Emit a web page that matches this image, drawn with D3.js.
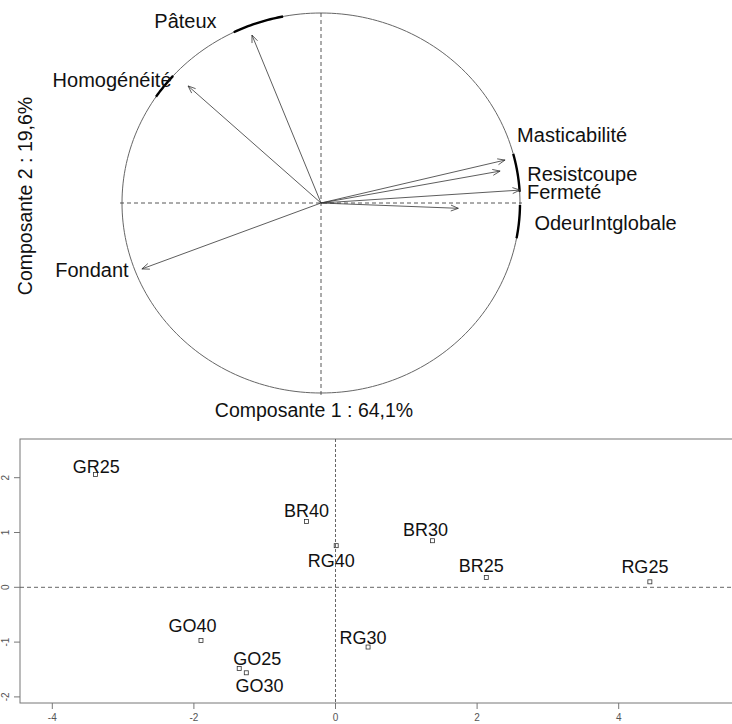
<!DOCTYPE html>
<html><head><meta charset="utf-8">
<script src="https://cdn.jsdelivr.net/npm/d3@7"></script>
<style>body{margin:0;background:#fff}svg{display:block}text{font-family:"Liberation Sans",Arial,Helvetica,sans-serif}</style>
</head><body><svg id="c" width="732" height="724"></svg>
<script>
// ---- Correlation circle data ----
const variables = ["Pâteux","Homogénéité","Fondant","Masticabilité","Resistcoupe","Fermeté","OdeurIntglobale"];
const dim1 = [-0.347,-0.668,-0.90,0.925,0.90,1.0,0.69];
const dim2 = [0.884,0.616,-0.347,0.226,0.168,0.068,-0.028];
const varLabelX = [-0.681,-1.050,-1.151,1.262,1.313,1.222,1.430];
const varLabelY = [0.960,0.647,-0.353,0.358,0.153,0.058,-0.107];
const highlightArcs = [[101,116],[138,146],[3.4,15],[-10.7,-0.6]];
const axisTitle1 = "Composante 1 : 64,1%";
const axisTitle2 = "Composante 2 : 19,6%";

// ---- Individuals data ----
const products = ["GR25","BR40","BR30","RG40","BR25","RG25","RG30","GO40","GO25","GO30"];
const prodX = [-3.39,-0.41,1.37,0.01,2.13,4.44,0.46,-1.90,-1.36,-1.26];
const prodY = [2.06,1.20,0.85,0.76,0.18,0.10,-1.09,-0.97,-1.48,-1.56];
const prodLabelX = [-3.38,-0.41,1.27,-0.06,2.06,4.37,0.39,-2.02,-1.105,-1.073];
const prodLabelY = [2.20,1.40,1.06,0.485,0.394,0.376,-0.912,-0.706,-1.296,-1.80];
const xTicks = [-4,-2,0,2,4];
const yTicks = [-2,-1,0,1,2];

const svg = d3.select("#c");

// ===== Top: correlation circle =====
const cx = d3.scaleLinear().domain([-1,1]).range([122,520]);
const cy = d3.scaleLinear().domain([-1,1]).range([393,13]);
const gTop = svg.append("g");

function arcPts(a0,a1,n){
  return d3.range(n+1).map(i=>{const a=(a0+(a1-a0)*i/n)*Math.PI/180;return [cx(Math.cos(a)),cy(Math.sin(a))];});
}
const line = d3.line();
gTop.append("path").attr("d",line(arcPts(0,360,240))+"Z")
  .attr("fill","none").attr("stroke","#666").attr("stroke-width",1);
highlightArcs.forEach(([a0,a1])=>{
  gTop.append("path").attr("d",line(arcPts(a0,a1,20)))
    .attr("fill","none").attr("stroke","#000").attr("stroke-width",2.4);
});
// dashed axes
gTop.append("line").attr("x1",cx(-1.01)).attr("x2",cx(1.01)).attr("y1",cy(0)).attr("y2",cy(0))
  .attr("stroke","#444").attr("stroke-dasharray","4,3").attr("stroke-width",0.9);
gTop.append("line").attr("x1",cx(0)).attr("x2",cx(0)).attr("y1",cy(1)).attr("y2",cy(-1.01))
  .attr("stroke","#444").attr("stroke-dasharray","4,3").attr("stroke-width",0.9);
// arrows
variables.forEach((v,i)=>{
  const x0=cx(0),y0=cy(0),x1=cx(dim1[i]),y1=cy(dim2[i]);
  const ang=Math.atan2(y1-y0,x1-x0), L=8, h=0.38;
  const p1=[x1-L*Math.cos(ang-h),y1-L*Math.sin(ang-h)];
  const p2=[x1-L*Math.cos(ang+h),y1-L*Math.sin(ang+h)];
  gTop.append("path").attr("d",`M${x0},${y0}L${x1},${y1}M${p1[0]},${p1[1]}L${x1},${y1}L${p2[0]},${p2[1]}`)
    .attr("fill","none").attr("stroke","#333").attr("stroke-width",0.8);
  gTop.append("text").attr("x",cx(varLabelX[i])).attr("y",cy(varLabelY[i])).attr("dy","0.35em")
    .attr("text-anchor","middle").attr("font-size",20).attr("fill","#111").text(v);
});
gTop.append("text").attr("x",314).attr("y",410).attr("dy","0.35em").attr("text-anchor","middle")
  .attr("font-size",19.5).attr("fill","#111").text(axisTitle1);
gTop.append("text").attr("transform","translate(25,196) rotate(-90)").attr("dy","0.35em").attr("text-anchor","middle")
  .attr("font-size",19.5).attr("fill","#111").text(axisTitle2);

// ===== Bottom: individuals =====
const x = d3.scaleLinear().domain([-4,4]).range([52.3,618.7]);
const y = d3.scaleLinear().domain([-2,2]).range([696.9,477.7]);
const fL=20,fT=439,fB=703,fR=740;
const gBot = svg.append("g");
gBot.append("rect").attr("x",fL).attr("y",fT).attr("width",fR-fL).attr("height",fB-fT)
  .attr("fill","none").attr("stroke","#777").attr("stroke-width",1);
gBot.append("line").attr("x1",fL).attr("x2",fR).attr("y1",y(0)).attr("y2",y(0))
  .attr("stroke","#555").attr("stroke-dasharray","4,3").attr("stroke-width",0.9);
gBot.append("line").attr("x1",x(0)).attr("x2",x(0)).attr("y1",fT).attr("y2",fB)
  .attr("stroke","#555").attr("stroke-dasharray","3,2").attr("stroke-width",0.9);
xTicks.forEach(t=>{
  gBot.append("line").attr("x1",x(t)).attr("x2",x(t)).attr("y1",fB).attr("y2",fB+6).attr("stroke","#777");
  gBot.append("text").attr("x",x(t)).attr("y",717).attr("dy","0.35em").attr("text-anchor","middle")
    .attr("font-size",10).attr("fill","#555").text(t);
});
yTicks.forEach(t=>{
  gBot.append("line").attr("x1",fL-6).attr("x2",fL).attr("y1",y(t)).attr("y2",y(t)).attr("stroke","#777");
  gBot.append("text").attr("transform",`translate(5,${y(t)}) rotate(-90)`).attr("dy","0.35em").attr("text-anchor","middle")
    .attr("font-size",10).attr("fill","#555").text(t);
});
products.forEach((p,i)=>{
  gBot.append("rect").attr("x",x(prodX[i])-2).attr("y",y(prodY[i])-2).attr("width",4).attr("height",4)
    .attr("fill","none").attr("stroke","#333").attr("stroke-width",0.8);
  gBot.append("text").attr("x",x(prodLabelX[i])).attr("y",y(prodLabelY[i])).attr("dy","0.35em")
    .attr("text-anchor","middle").attr("font-size",18).attr("fill","#111").text(p);
});
</script></body></html>
